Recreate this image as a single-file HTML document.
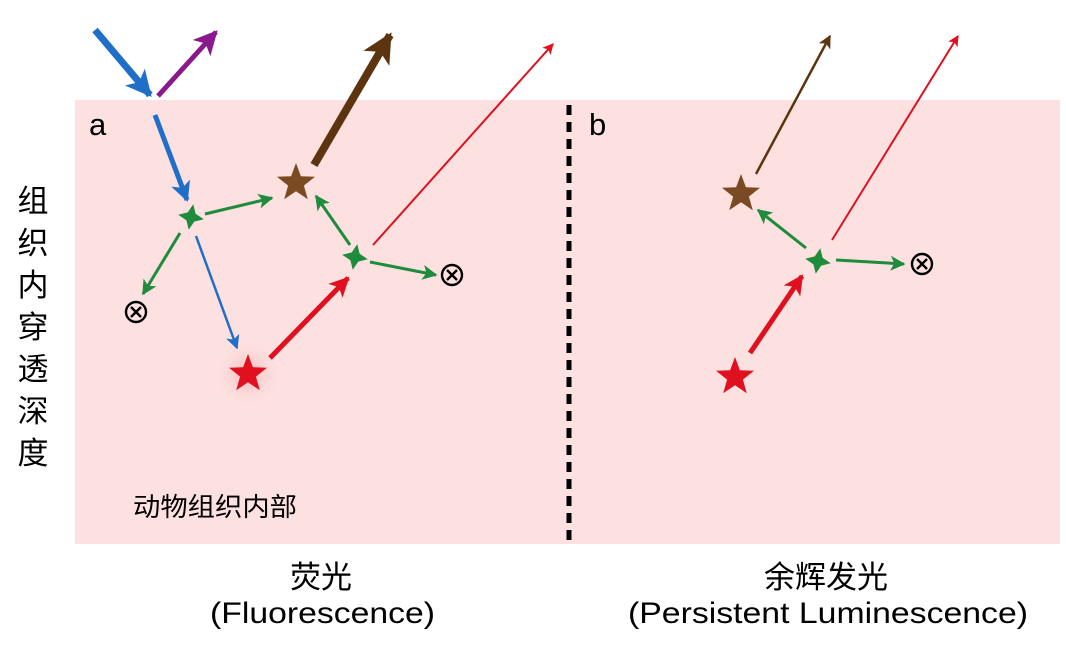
<!DOCTYPE html>
<html><head><meta charset="utf-8"><style>
html,body{margin:0;padding:0;background:#fff;}
svg{display:block;}
text{font-family:"Liberation Sans","Noto Sans CJK SC",sans-serif;}
</style></head><body>
<svg width="1066" height="651" viewBox="0 0 1066 651" xmlns="http://www.w3.org/2000/svg">
<defs>
<radialGradient id="glow"><stop offset="0" stop-color="#f6b0b0" stop-opacity="0.9"/><stop offset="1" stop-color="#fde0e0" stop-opacity="0"/></radialGradient>
<marker id="mBlueL" markerUnits="userSpaceOnUse" viewBox="0 0 10 10" refX="9" refY="5" markerWidth="30" markerHeight="26" orient="auto"><path d="M0,0 L10,5 L0,10 L2.5,5 z" fill="#1f6fc9"/></marker>
<marker id="mBlueM" markerUnits="userSpaceOnUse" viewBox="0 0 10 10" refX="9" refY="5" markerWidth="26" markerHeight="20" orient="auto"><path d="M0,0 L10,5 L0,10 L2.5,5 z" fill="#1f6fc9"/></marker>
<marker id="mBlueS" markerUnits="userSpaceOnUse" viewBox="0 0 10 10" refX="9" refY="5" markerWidth="20" markerHeight="14" orient="auto"><path d="M0,0 L10,5 L0,10 L2.5,5 z" fill="#1f6fc9"/></marker>
<marker id="mPur" markerUnits="userSpaceOnUse" viewBox="0 0 10 10" refX="9" refY="5" markerWidth="28" markerHeight="24" orient="auto"><path d="M0,0 L10,5 L0,10 L2.5,5 z" fill="#8a1a8c"/></marker>
<marker id="mBrL" markerUnits="userSpaceOnUse" viewBox="0 0 10 10" refX="9" refY="5" markerWidth="36" markerHeight="30" orient="auto"><path d="M0,0 L10,5 L0,10 L2.5,5 z" fill="#5c3510"/></marker>
<marker id="mBrS" markerUnits="userSpaceOnUse" viewBox="0 0 10 10" refX="9" refY="5" markerWidth="18" markerHeight="13" orient="auto"><path d="M0,0 L10,5 L0,10 L2.5,5 z" fill="#5c3510"/></marker>
<marker id="mRedM" markerUnits="userSpaceOnUse" viewBox="0 0 10 10" refX="9" refY="5" markerWidth="26" markerHeight="20" orient="auto"><path d="M0,0 L10,5 L0,10 L2.5,5 z" fill="#e0101e"/></marker>
<marker id="mRedS" markerUnits="userSpaceOnUse" viewBox="0 0 10 10" refX="9" refY="5" markerWidth="16" markerHeight="11" orient="auto"><path d="M0,0 L10,5 L0,10 L2.5,5 z" fill="#e0101e"/></marker>
<marker id="mGr" markerUnits="userSpaceOnUse" viewBox="0 0 10 10" refX="9" refY="5" markerWidth="20" markerHeight="15" orient="auto"><path d="M0,0 L10,5 L0,10 L2.5,5 z" fill="#1e8c3c"/></marker>
<polygon id="star" points="0,-20 4.9,-6.8 19,-6.2 7.9,2.6 11.8,16.2 0,8.3 -11.8,16.2 -7.9,2.6 -19,-6.2 -4.9,-6.8"/>
<polygon id="gstar" points="0,-13 4,-4 13,0 4,4 0,13 -4,4 -13,0 -4,-4" transform="rotate(10)"/>
<g id="otimes"><circle r="10" fill="none" stroke="#000" stroke-width="2.4"/><path d="M-5,-5 L5,5 M5,-5 L-5,5" stroke="#000" stroke-width="2.4"/></g>
</defs>

<rect x="75" y="100" width="985" height="444" fill="#fde0e0"/>
<line x1="569" y1="105" x2="569" y2="544" stroke="#000" stroke-width="5" stroke-dasharray="10,7"/>

<!-- panel a -->
<circle cx="248" cy="374" r="34" fill="url(#glow)"/>
<line x1="95" y1="30" x2="150" y2="95" stroke="#1f6fc9" stroke-width="7" marker-end="url(#mBlueL)"/>
<line x1="158" y1="96" x2="216" y2="32" stroke="#8a1a8c" stroke-width="5" marker-end="url(#mPur)"/>
<line x1="155" y1="115" x2="187" y2="200" stroke="#1f6fc9" stroke-width="5" marker-end="url(#mBlueM)"/>
<line x1="196" y1="236" x2="237" y2="348" stroke="#1f6fc9" stroke-width="2.5" marker-end="url(#mBlueS)"/>
<line x1="205" y1="214" x2="272" y2="198" stroke="#1e8c3c" stroke-width="3" marker-end="url(#mGr)"/>
<line x1="180" y1="233" x2="143" y2="294" stroke="#1e8c3c" stroke-width="3" marker-end="url(#mGr)"/>
<line x1="314" y1="165" x2="390" y2="35" stroke="#5c3510" stroke-width="8" marker-end="url(#mBrL)"/>
<line x1="350" y1="245" x2="316" y2="196" stroke="#1e8c3c" stroke-width="3" marker-end="url(#mGr)"/>
<line x1="370" y1="262" x2="436" y2="275" stroke="#1e8c3c" stroke-width="3" marker-end="url(#mGr)"/>
<line x1="373" y1="245" x2="553" y2="44" stroke="#e0101e" stroke-width="2" marker-end="url(#mRedS)"/>
<line x1="270" y1="358" x2="348" y2="278" stroke="#e0101e" stroke-width="5" marker-end="url(#mRedM)"/>
<use href="#gstar" x="191" y="217" fill="#1e8c3c"/>
<use href="#gstar" x="355" y="257" fill="#1e8c3c"/>
<use href="#star" x="296" y="183" fill="#7a4a22"/>
<use href="#star" x="248" y="374" fill="#e0101e"/>
<use href="#otimes" x="136" y="312"/>
<use href="#otimes" x="452" y="275"/>

<!-- panel b -->
<line x1="756" y1="174" x2="830" y2="36" stroke="#5c3510" stroke-width="2.5" marker-end="url(#mBrS)"/>
<line x1="832" y1="240" x2="958" y2="36" stroke="#e0101e" stroke-width="2" marker-end="url(#mRedS)"/>
<line x1="806" y1="248" x2="758" y2="210" stroke="#1e8c3c" stroke-width="3" marker-end="url(#mGr)"/>
<line x1="836" y1="260" x2="904" y2="264" stroke="#1e8c3c" stroke-width="3" marker-end="url(#mGr)"/>
<line x1="750" y1="353" x2="802" y2="276" stroke="#e0101e" stroke-width="5" marker-end="url(#mRedM)"/>
<use href="#gstar" x="818" y="261" fill="#1e8c3c"/>
<use href="#star" x="741" y="194" fill="#7a4a22"/>
<use href="#star" x="735" y="377" fill="#e0101e"/>
<use href="#otimes" x="922" y="264"/>

<!-- labels -->
<text x="89" y="135" font-size="31" fill="#000">a</text>
<text x="589" y="135" font-size="31" fill="#000">b</text>
<g font-size="31" fill="#000" text-anchor="middle">
<text x="33" y="212">组</text>
<text x="33" y="254">织</text>
<text x="33" y="296">内</text>
<text x="33" y="338">穿</text>
<text x="33" y="380">透</text>
<text x="33" y="422">深</text>
<text x="33" y="464">度</text>
</g>
<text x="133" y="516" font-size="26" fill="#000" textLength="164" lengthAdjust="spacingAndGlyphs">动物组织内部</text>
<g font-size="30" fill="#000">
<text x="290" y="588" font-size="31">荧光</text>
<text x="210" y="623" textLength="225" lengthAdjust="spacingAndGlyphs">(Fluorescence)</text>
<text x="764" y="588" font-size="31">余辉发光</text>
<text x="628" y="623" textLength="400" lengthAdjust="spacingAndGlyphs">(Persistent Luminescence)</text>
</g>
</svg>
</body></html>
